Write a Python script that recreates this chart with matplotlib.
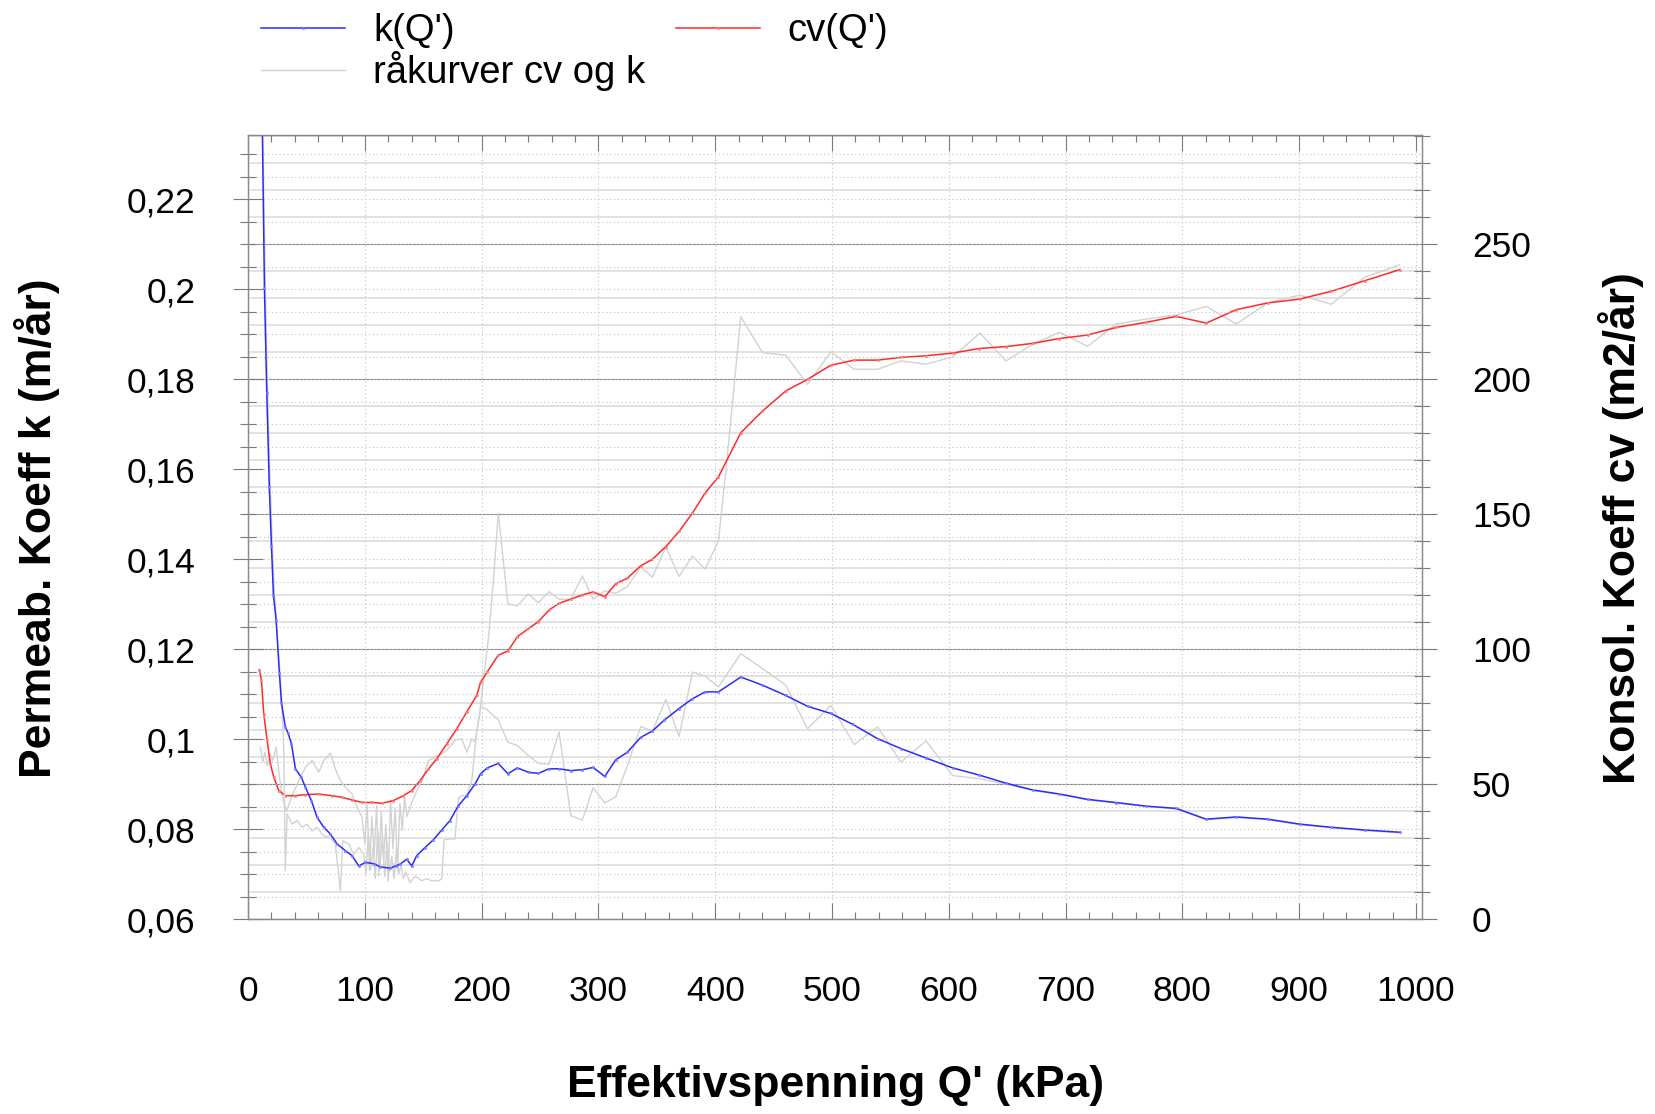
import matplotlib
matplotlib.use("Agg")
import matplotlib.pyplot as plt
from matplotlib.ticker import MultipleLocator, FixedLocator

plt.rcParams['font.family'] = ['Liberation Sans', 'DejaVu Sans']

# Smoothed permeability coefficient k(Q') [m/år]
k_q = [12.2, 14.0, 16.0, 18.2, 20.0, 21.7, 24.0, 26.8, 28.6, 31.9, 34.3, 37.1, 40.5,
       45.6, 49.1, 54.2, 59.1, 64.8, 70.5, 76.2, 83.3, 89.0, 94.8, 100.4, 107.6, 113.3,
       121.6, 126.3, 130.1, 135.9, 140.1, 144.4, 151.5, 158.6, 165.8, 172.9, 180.0,
       187.2, 194.3, 199.1, 204.8, 214.2, 222.5, 230.5, 240.5, 248.5, 257.7, 266.3,
       276.3, 286.2, 295.4, 305.4, 314.8, 324.8, 336.2, 346.2, 356.2, 369.0, 380.0,
       391.3, 402.7, 421.9, 440.4, 460.5, 479.0, 499.0, 517.6, 539.0, 559.0, 580.5,
       603.3, 626.1, 649.0, 671.8, 694.7, 718.9, 743.3, 769.0, 794.7, 820.4, 846.1,
       873.2, 900.4, 927.5, 956.0, 986.0]
k_val = [0.236, 0.2003, 0.177, 0.156, 0.143, 0.132, 0.1265, 0.1147, 0.108, 0.1027,
         0.1013, 0.0990, 0.0934, 0.0915, 0.0893, 0.0863, 0.0826, 0.0804, 0.0789, 0.0767,
         0.0752, 0.0741, 0.0718, 0.0726, 0.0723, 0.0716, 0.0713, 0.0718, 0.0722, 0.0733,
         0.0718, 0.0741, 0.0759, 0.0776, 0.0798, 0.0819, 0.0852, 0.0874, 0.0900, 0.0923,
         0.0936, 0.0946, 0.0923, 0.0936, 0.0926, 0.0924, 0.0934, 0.0934, 0.0930, 0.0932,
         0.0937, 0.0917, 0.0954, 0.0971, 0.1004, 0.1018, 0.1042, 0.1068, 0.1089, 0.1105,
         0.1105, 0.1138, 0.1120, 0.1097, 0.1073, 0.1057, 0.1033, 0.1001, 0.0979, 0.0958,
         0.0936, 0.0920, 0.0902, 0.0887, 0.0878, 0.0866, 0.0859, 0.0851, 0.0846, 0.0822,
         0.0827, 0.0822, 0.0811, 0.0804, 0.0798, 0.0793]

# Smoothed consolidation coefficient cv(Q') [m2/år]
cv_q = [9.7, 11.4, 13.4, 16.3, 19.1, 22.0, 26.3, 31.9, 40.5, 49.1, 60.5, 71.9, 80.5,
        89.0, 97.6, 106.2, 114.7, 124.4, 133.0, 140.1, 147.3, 154.4, 161.6, 170.1,
        178.7, 187.2, 195.8, 199.1, 204.8, 214.2, 222.5, 230.5, 239.1, 248.5, 257.7,
        266.3, 276.3, 286.2, 295.4, 305.4, 314.8, 324.8, 336.2, 346.2, 357.7, 369.0,
        380.5, 391.3, 402.7, 421.9, 440.4, 460.5, 479.0, 499.0, 519.0, 539.0, 559.0,
        580.5, 603.3, 626.1, 649.0, 671.8, 694.7, 718.9, 743.3, 769.0, 794.7, 820.4,
        846.1, 873.2, 900.4, 927.5, 956.0, 986.0]
cv_val = [92.4, 88.5, 76.1, 66.2, 57.5, 52.5, 47.6, 45.7, 45.7, 46.1, 46.3, 45.7, 45.1,
          44.1, 43.2, 43.2, 42.9, 43.9, 45.7, 47.6, 51.3, 55.6, 59.4, 64.9, 70.5, 76.7,
          82.9, 87.8, 91.6, 97.8, 99.3, 104.6, 107.3, 110.2, 114.5, 117.0, 118.5, 120.1,
          121.2, 119.4, 124.2, 126.3, 130.9, 133.3, 138.0, 143.6, 150.4, 157.9, 163.8,
          180.2, 188.2, 195.7, 200.0, 205.2, 207.1, 207.1, 208.1, 208.7, 209.7, 211.4,
          212.1, 213.3, 215.1, 216.4, 219.2, 221.1, 223.3, 220.8, 225.8, 228.3, 229.7,
          232.6, 236.5, 240.6]

# Raw (unsmoothed) k curve
rawk_q = [12.5, 14.5, 16.5, 18.5, 20.5, 22.5, 24.5, 27.0, 29.0, 30.5, 31.9, 33.4, 37.7,
          42.0, 46.2, 50.5, 54.8, 59.1, 64.8, 70.5, 74.7, 79.0, 81.1, 86.2, 90.5, 94.8,
          99.0, 101, 103, 105, 107, 109, 111, 113, 115, 117, 119, 121, 123, 125, 127, 129,
          131, 133, 135, 138.7, 143, 148.7, 153, 157.3, 162.9, 165.8, 167.8, 172, 177.2,
          180.1, 184, 187.2, 191.5, 195.8, 199.1, 203.4, 214.2, 222.5, 230.5, 239.8,
          248.5, 257.7, 266.3, 276.3, 286.2, 295.4, 305.4, 314.8, 324.8, 336.2, 346.2,
          357.7, 369.0, 380.5, 391.3, 402.7, 421.9, 440.4, 460.5, 479.0, 499.0, 519.0,
          539.0, 559.0, 580.5, 603.3, 626.1, 649.0, 671.8, 694.7, 718.9, 743.3, 769.0,
          794.7, 820.4, 846.1, 873.2, 900.4, 927.5, 956.0, 986.0]
rawk_val = [0.236, 0.205, 0.180, 0.160, 0.145, 0.133, 0.125, 0.116, 0.108, 0.098, 0.0707,
            0.0834, 0.0811, 0.0819, 0.0804, 0.0811, 0.0796, 0.0804, 0.0785, 0.0781,
            0.0767, 0.0662, 0.0774, 0.0767, 0.0744, 0.0759, 0.0744, 0.0700, 0.0790,
            0.0710, 0.0760, 0.0690, 0.0800, 0.0720, 0.0780, 0.0695, 0.0770, 0.0705,
            0.0740, 0.0690, 0.0755, 0.0700, 0.0720, 0.0690, 0.0705, 0.0681, 0.0695,
            0.0685, 0.0690, 0.0685, 0.0685, 0.0689, 0.0776, 0.0778, 0.0778, 0.0870,
            0.0875, 0.0874, 0.0908, 0.1019, 0.1071, 0.1068, 0.1043, 0.0993, 0.0986,
            0.0964, 0.0946, 0.0944, 0.1016, 0.0830, 0.0820, 0.0892, 0.0858, 0.0872,
            0.0941, 0.1028, 0.1018, 0.1088, 0.1006, 0.1149, 0.1140, 0.1116, 0.1190,
            0.1157, 0.1120, 0.1023, 0.1075, 0.0988, 0.1027, 0.0949, 0.0996, 0.0919,
            0.0912, 0.0900, 0.0886, 0.0877, 0.0865, 0.0858, 0.0850, 0.0845, 0.0821,
            0.0826, 0.0821, 0.0810, 0.0803, 0.0797, 0.0792]

# Raw (unsmoothed) cv curve
rawcv_q = [10.5, 12.6, 14.3, 16.3, 19.1, 21.0, 24.0, 27.0, 30.0, 33.0, 37.0, 43.4, 49.1,
           54.8, 60.5, 64.8, 70.5, 74.7, 79.0, 83.3, 89.0, 93.3, 97.6, 100, 102, 104, 106,
           108, 110, 112, 114, 116, 118, 120, 122, 124, 126, 128, 130, 132, 134, 136,
           140.1, 145, 150, 154.4, 160, 165, 170.1, 177.2, 182.9, 187.2, 191.5, 194.3,
           198, 202, 206, 210, 214.2, 222.5, 230.5, 239.8, 248.5, 257.7, 266.3, 276.3,
           286.2, 295.4, 305.4, 314.8, 324.8, 336.2, 346.2, 357.7, 369.0, 380.5, 391.3,
           402.7, 409.5, 421.9, 440.4, 460.5, 479.0, 499.0, 519.0, 539.0, 559.0, 580.5,
           603.3, 626.7, 649.0, 671.8, 694.7, 718.9, 743.3, 769.0, 794.7, 820.4, 846.1,
           873.2, 900.4, 927.5, 956.0, 986.0]
rawcv_val = [63.7, 58.1, 61.8, 56.9, 61.2, 58.7, 63.7, 52.0, 44.0, 40.0, 45.0, 51.3, 56.2,
             58.7, 54.4, 58.7, 61.5, 55.6, 51.3, 48.8, 46.3, 41.4, 37.7, 28, 42, 18, 38,
             24, 42, 16, 40, 22, 35, 14, 44, 26, 41, 18, 43, 33, 45, 38, 43.2, 48, 52.5,
             58.7, 60, 61, 62.5, 66.2, 66.8, 61.8, 66.8, 65.6, 75, 90, 105, 125, 150.4,
             116.7, 116.1, 120.4, 117.2, 121.3, 118.5, 118.5, 127.1, 118.5, 121.6, 120.7,
             123.2, 130.4, 126.7, 137.8, 126.9, 134.5, 129.6, 140.1, 167.8, 223.2, 209.9,
             208.9, 198.1, 210.2, 203.7, 203.7, 206.8, 205.6, 208.3, 217.1, 206.8, 213.0,
             217.4, 212.2, 220.5, 222.3, 223.8, 227.0, 220.5, 228.3, 231.2, 227.8, 237.8,
             242.4]

x_ticks = [0, 100, 200, 300, 400, 500, 600, 700, 800, 900, 1000]
k_ticks = [0.06, 0.08, 0.10, 0.12, 0.14, 0.16, 0.18, 0.20, 0.22]
k_tick_labels = ['0,06', '0,08', '0,1', '0,12', '0,14', '0,16', '0,18', '0,2', '0,22']
cv_ticks = [0, 50, 100, 150, 200, 250]

K_MIN, K_MAX = 0.06, 0.2343
CV_PER_K = 50 / 0.03  # right scale: 0.03 in k per 50 in cv

fig = plt.figure(figsize=(16.55, 11.14), dpi=100)
ax = fig.add_axes([0.1499, 0.1750, 0.7092, 0.7038])
ax2 = ax.twinx()
ax.set_zorder(ax2.get_zorder() + 1)
ax.patch.set_visible(False)

ax.set_xlim(0, 1005)
ax.set_ylim(K_MIN, K_MAX)
ax2.set_ylim(0, (K_MAX - K_MIN) * CV_PER_K)

tick_col = '#7a7a7a'
for a in (ax, ax2):
    for sp in a.spines.values():
        sp.set_color('#8a8a8a')
        sp.set_linewidth(0.9)

TICK_FS = 25.5

# x axis
ax.xaxis.set_major_locator(FixedLocator(x_ticks))
ax.xaxis.set_minor_locator(MultipleLocator(20))
ax.set_xticklabels([str(v) for v in x_ticks])
ax.tick_params(axis='x', which='major', direction='in', length=11.5, width=0.8,
               color=tick_col, top=True, labelsize=TICK_FS, pad=40)
ax.tick_params(axis='x', which='minor', direction='in', length=5.2, width=0.8,
               color=tick_col, top=True)

# left axis
ax.yaxis.set_major_locator(FixedLocator(k_ticks))
ax.yaxis.set_minor_locator(MultipleLocator(0.005))
ax.set_yticklabels(k_tick_labels)
ax.tick_params(axis='y', which='major', direction='inout', length=22, width=0.8,
               color=tick_col, labelsize=TICK_FS, pad=27)
ax.tick_params(axis='y', which='minor', direction='inout', length=11, width=0.8,
               color=tick_col)

# right axis
ax2.yaxis.set_major_locator(FixedLocator(cv_ticks))
ax2.yaxis.set_minor_locator(MultipleLocator(10))
ax2.set_yticklabels([str(v) for v in cv_ticks])
ax2.tick_params(axis='y', which='major', direction='inout', length=22, width=0.8,
                color=tick_col, labelsize=TICK_FS, pad=25)
ax2.tick_params(axis='y', which='minor', direction='inout', length=11, width=0.8,
                color=tick_col)

# grid
ax2.set_axisbelow(True)
ax2.grid(axis='y', which='minor', color='#dadada', lw=1.1, ls='-')
ax2.grid(axis='y', which='major', color='#8c8c8c', lw=0.8, ls='-')
ax.grid(axis='x', which='major', color='#c4c4c4', lw=0.8, ls=(0, (1, 2.5)))
ax.grid(axis='y', which='both', color='#c4c4c4', lw=0.8, ls=(0, (1, 2.5)))

# curves
raw_col = '#d2d2d2'
ax2.plot(rawcv_q, rawcv_val, color=raw_col, lw=1.0)
h_cv, = ax2.plot(cv_q, cv_val, color='#ff2a2a', lw=1.1, marker='o', ms=1.6,
                 mfc='#ff8a8a', mec='#ff6a6a', mew=0.4)
h_raw, = ax.plot(rawk_q, rawk_val, color=raw_col, lw=1.0)
h_k, = ax.plot(k_q, k_val, color='#2a2aff', lw=1.1, marker='o', ms=1.6,
               mfc='#8a8aff', mec='#6a6aff', mew=0.4)

fig.legend([h_k, h_raw, h_cv], ["k(Q')", "råkurver cv og k", "cv(Q')"],
           ncol=2, loc='upper left', bbox_to_anchor=(261 / 1655, 1 - 13 / 1114),
           frameon=False, fontsize=27.5, handlelength=2.2, handletextpad=0.73,
           columnspacing=0.8, labelspacing=0.05, borderpad=0, borderaxespad=0,
           numpoints=1)

fig.text(836 / 1655, 1 - 1085 / 1114, "Effektivspenning Q' (kPa)", ha='center',
         va='center', fontsize=32, fontweight='bold')
fig.text(37 / 1655, 1 - 528 / 1114, "Permeab. Koeff k (m/år)", ha='center',
         va='center', rotation=90, fontsize=32, fontweight='bold')
fig.text(1621 / 1655, 1 - 528 / 1114, "Konsol. Koeff cv (m2/år)", ha='center',
         va='center', rotation=90, fontsize=32, fontweight='bold')

fig.savefig('out.png', dpi=100, facecolor='white')
